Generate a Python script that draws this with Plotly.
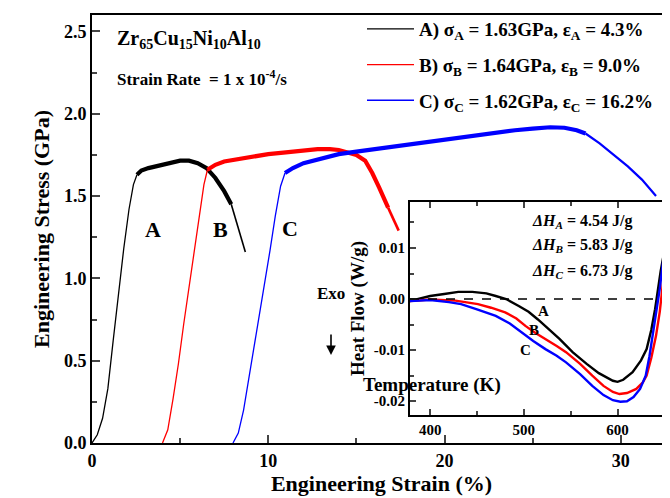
import plotly.graph_objects as go

# ---------------- data ----------------
# Main stress-strain curves: strain (%) and stress (GPa)
A_el_strain = [0, 0.3, 0.6, 0.9, 1.2, 1.5, 1.8, 2.1, 2.35, 2.55]
A_el_stress = [0, 0.05, 0.15, 0.33, 0.62, 0.92, 1.18, 1.42, 1.57, 1.63]
A_pl_strain = [2.55, 2.8, 3.2, 3.6, 4.0, 4.5, 5.0, 5.5, 6.0, 6.5, 7.0, 7.5, 7.9]
A_pl_stress = [1.63, 1.655, 1.67, 1.68, 1.69, 1.70, 1.715, 1.715, 1.70, 1.67, 1.61, 1.53, 1.45]
A_tail_strain = [7.9, 8.3, 8.7]
A_tail_stress = [1.45, 1.31, 1.16]

B_el_strain = [4.0, 4.3, 4.6, 4.9, 5.2, 5.5, 5.8, 6.1, 6.35, 6.55]
B_el_stress = [0, 0.08, 0.27, 0.48, 0.72, 0.95, 1.18, 1.39, 1.57, 1.66]
B_pl_strain = [6.55, 7.0, 7.5, 8.0, 9.0, 10.0, 11.0, 12.0, 12.8, 13.5, 14.0, 14.5,
               15.0, 15.5, 15.9, 16.3, 16.8]
B_pl_stress = [1.66, 1.69, 1.71, 1.72, 1.74, 1.755, 1.765, 1.775, 1.785, 1.785, 1.78,
               1.765, 1.75, 1.715, 1.64, 1.55, 1.43]
B_tail_strain = [16.8, 17.1, 17.4]
B_tail_stress = [1.43, 1.36, 1.29]

C_el_strain = [8.0, 8.3, 8.6, 8.9, 9.2, 9.5, 9.8, 10.1, 10.4, 10.7, 10.95]
C_el_stress = [0, 0.06, 0.20, 0.39, 0.58, 0.77, 0.96, 1.17, 1.38, 1.56, 1.64]
C_pl_strain = [10.95, 11.4, 12, 13, 14, 15, 16, 17, 18, 19, 20, 21, 22, 23, 24, 25,
               26, 26.8, 27.5, 28.0]
C_pl_stress = [1.64, 1.67, 1.70, 1.73, 1.755, 1.77, 1.785, 1.795, 1.81, 1.825, 1.84,
               1.855, 1.87, 1.885, 1.90, 1.91, 1.918, 1.915, 1.90, 1.88]
C_tail_strain = [28.0, 28.8, 29.6, 30.4, 31.2, 32.0]
C_tail_stress = [1.88, 1.82, 1.75, 1.68, 1.60, 1.50]

legend_names = [
    "A) σ<sub>A</sub> = 1.63GPa, ε<sub>A</sub> = 4.3%",
    "B) σ<sub>B</sub> = 1.64GPa, ε<sub>B</sub> = 9.0%",
    "C) σ<sub>C</sub> = 1.62GPa, ε<sub>C</sub> = 16.2%",
]

# Inset DSC curves: temperature (K) and heat flow (W/g)
TA = [378.5, 390, 400, 415, 430, 445, 460, 470, 481, 495, 505, 515, 523, 538, 552,
      567, 580, 588, 595, 600, 606, 616, 625, 631, 636, 640, 643, 646, 649, 653, 656]
HA = [-0.0004, 0.0002, 0.0006, 0.0010, 0.0014, 0.0014, 0.0011, 0.0006, 0.0000,
      -0.0014, -0.0025, -0.0040, -0.0053, -0.0078, -0.0104, -0.0127, -0.0145,
      -0.0153, -0.0160, -0.0162, -0.0158, -0.0143, -0.0120, -0.0098, -0.0060,
      -0.0020, 0.0020, 0.0055, 0.0085, 0.0150, 0.0210]
TB = [378.5, 400, 427, 451, 465, 480, 492, 502, 512, 523, 535, 545, 560, 573, 585,
      595, 602, 610, 620, 627, 631, 636, 641, 645, 648, 652, 656, 658]
HB = [-0.0004, -0.0001, -0.0003, -0.0010, -0.0017, -0.0026, -0.0038, -0.0053,
      -0.0066, -0.0078, -0.0092, -0.0104, -0.0127, -0.0150, -0.0170, -0.0182,
      -0.0186, -0.0184, -0.0176, -0.0163, -0.0150, -0.0115, -0.0072, -0.0025,
      0.0020, 0.0090, 0.0190, 0.0230]
TC = [378.5, 400, 420, 433, 450, 470, 485, 497, 510, 523, 535, 545, 560, 573, 585,
      595, 603, 610, 617, 624, 630, 634, 638, 642, 645, 649, 653, 656]
HC = [-0.0004, -0.0002, -0.0006, -0.0010, -0.0020, -0.0033, -0.0048, -0.0065,
      -0.0082, -0.0098, -0.0111, -0.0124, -0.0147, -0.0170, -0.0188, -0.0198,
      -0.0201, -0.0200, -0.0192, -0.0176, -0.0150, -0.0112, -0.0065, -0.0015,
      0.0020, 0.0080, 0.0160, 0.0230]

dH_labels = ["<i>ΔH<sub>A</sub></i> = 4.54 J/g",
             "<i>ΔH<sub>B</sub></i> = 5.83 J/g",
             "<i>ΔH<sub>C</sub></i> = 6.73 J/g"]

main_yticks = [0, 0.5, 1.0, 1.5, 2.0, 2.5]
main_xticks = [0, 10, 20, 30]
inset_xticks = [400, 500, 600]
inset_yticks = [-0.02, -0.01, 0.0, 0.01]
inset_yticktext = ["-0.02", "-0.01", "0.00", "0.01"]

# ---------------- layout helpers ----------------
W, H = 670, 498
L, R, T, B = 84, 7, 7, 63
PW, PH = W - L - R, H - T - B


def fx(xp):
    return (xp - L) / PW


def fy(yp):
    return (H - B - yp) / PH


FAM = "Liberation Serif"


def font(size, color="black"):
    return dict(family=FAM, size=size, color=color, weight="bold")


fig = go.Figure()

series = [
    ("A", "black", A_el_strain, A_el_stress, A_pl_strain, A_pl_stress, A_tail_strain, A_tail_stress, 1.6),
    ("B", "#ff0000", B_el_strain, B_el_stress, B_pl_strain, B_pl_stress, B_tail_strain, B_tail_stress, 2.6),
    ("C", "#0000ff", C_el_strain, C_el_stress, C_pl_strain, C_pl_stress, C_tail_strain, C_tail_stress, 2.2),
]
for i, (g, col, ex, ey, px_, py_, tx, ty, tw) in enumerate(series):
    fig.add_trace(go.Scatter(x=ex, y=ey, mode="lines", name=legend_names[i],
                             legendgroup=g, line=dict(color=col, width=1.3)))
    fig.add_trace(go.Scatter(x=px_, y=py_, mode="lines", legendgroup=g, showlegend=False,
                             line=dict(color=col, width=4.2)))
    fig.add_trace(go.Scatter(x=tx, y=ty, mode="lines", legendgroup=g, showlegend=False,
                             line=dict(color=col, width=tw)))

for Tt, Hh, col in [(TA, HA, "black"), (TB, HB, "#ff0000"), (TC, HC, "#0000ff")]:
    fig.add_trace(go.Scatter(x=Tt, y=Hh, mode="lines", xaxis="x2", yaxis="y2",
                             showlegend=False, line=dict(color=col, width=2.4)))

annotations = [
    dict(x=fx(107), y=fy(31), xref="paper", yref="paper", xanchor="left", yanchor="middle",
         text="Zr<sub>65</sub>Cu<sub>15</sub>Ni<sub>10</sub>Al<sub>10</sub>",
         showarrow=False, font=font(20)),
    dict(x=fx(107), y=fy(70), xref="paper", yref="paper", xanchor="left", yanchor="middle",
         text="Strain Rate  = 1 x 10<sup>-4</sup>/s", showarrow=False, font=font(17)),
    dict(x=fx(135), y=fy(222), xref="paper", yref="paper", text="A", showarrow=False, font=font(22)),
    dict(x=fx(203), y=fy(222), xref="paper", yref="paper", text="B", showarrow=False, font=font(22)),
    dict(x=fx(282), y=fy(220), xref="paper", yref="paper", text="C", showarrow=False, font=font(22)),
    dict(x=fx(323), y=fy(297), xref="paper", yref="paper", text="Exo", showarrow=False, font=font(17)),
    dict(x=fx(323), y=fy(347), xref="paper", yref="paper", text="", showarrow=True,
         ax=0, ay=-22, arrowhead=2, arrowsize=1.2, arrowwidth=1.6, arrowcolor="black"),
    dict(x=fx(495), y=fy(390), xref="paper", yref="paper", text="Temperature (K)",
         showarrow=False, font=font(19)),
    dict(x=fx(543), y=fy(313), xref="paper", yref="paper", text="A", showarrow=False, font=font(15)),
    dict(x=fx(533), y=fy(332), xref="paper", yref="paper", text="B", showarrow=False, font=font(15)),
    dict(x=fx(525), y=fy(352), xref="paper", yref="paper", text="C", showarrow=False, font=font(15)),
]
for k, t in enumerate(dH_labels):
    annotations.append(dict(x=fx(522), y=fy(213 + 25 * k), xref="paper", yref="paper",
                            xanchor="left", yanchor="middle", text=t, showarrow=False,
                            font=font(16)))

fig.update_layout(
    width=W, height=H,
    margin=dict(l=L, r=R, t=T, b=B, autoexpand=False),
    paper_bgcolor="white", plot_bgcolor="white",
    font=font(16),
    showlegend=True,
    legend=dict(x=fx(354), y=fy(2), xanchor="left", yanchor="top",
                font=font(19), bgcolor="rgba(0,0,0,0)", tracegroupgap=8,
                itemwidth=47, traceorder="grouped"),
    xaxis=dict(range=[0, 32.85], tickvals=main_xticks, ticks="inside", ticklen=8, tickwidth=2,
               minor=dict(dtick=5, ticks="inside", ticklen=5, tickwidth=2, tick0=0),
               showline=True, linewidth=2, linecolor="black", mirror=True, automargin=False,
               showgrid=False, zeroline=False, tickfont=font(18),
               title=dict(text="Engineering Strain (%)", font=font(22), standoff=4)),
    yaxis=dict(range=[0, 2.6], tickvals=main_yticks, tickformat=".1f", ticks="inside",
               ticklen=8, tickwidth=2, automargin=False,
               minor=dict(dtick=0.25, ticks="inside", ticklen=5, tickwidth=2, tick0=0),
               showline=True, linewidth=2, linecolor="black", mirror=True,
               showgrid=False, zeroline=False, tickfont=font(18),
               title=dict(text="Engineering Stress (GPa)", font=font(22), standoff=8)),
    xaxis2=dict(domain=[fx(402), 1.0], anchor="y2", range=[378.5, 657], automargin=False,
                tickvals=inset_xticks, ticks="inside", ticklen=6, tickwidth=2,
                minor=dict(dtick=50, tick0=400, ticks="inside", ticklen=4, tickwidth=1.5),
                showline=True, linewidth=2, linecolor="black", mirror="ticks",
                showgrid=False, zeroline=False, tickfont=font(15)),
    yaxis2=dict(domain=[fy(407), fy(194)], anchor="x2", range=[-0.0227, 0.019],
                automargin=False,
                tickvals=inset_yticks, ticktext=inset_yticktext, ticks="inside", ticklen=6,
                tickwidth=2,
                minor=dict(dtick=0.005, tick0=0, ticks="inside", ticklen=4, tickwidth=1.5),
                showline=True, linewidth=2, linecolor="black", mirror=True,
                showgrid=False, zeroline=False, tickfont=font(15),
                title=dict(text="Heat Flow (W/g)", font=font(19), standoff=4)),
    annotations=annotations,
    shapes=[dict(type="line", xref="x2 domain", yref="y2", x0=0, x1=1, y0=0, y1=0,
                 line=dict(color="black", width=1.6, dash="dash"))],
)

fig.write_html("out.html")
